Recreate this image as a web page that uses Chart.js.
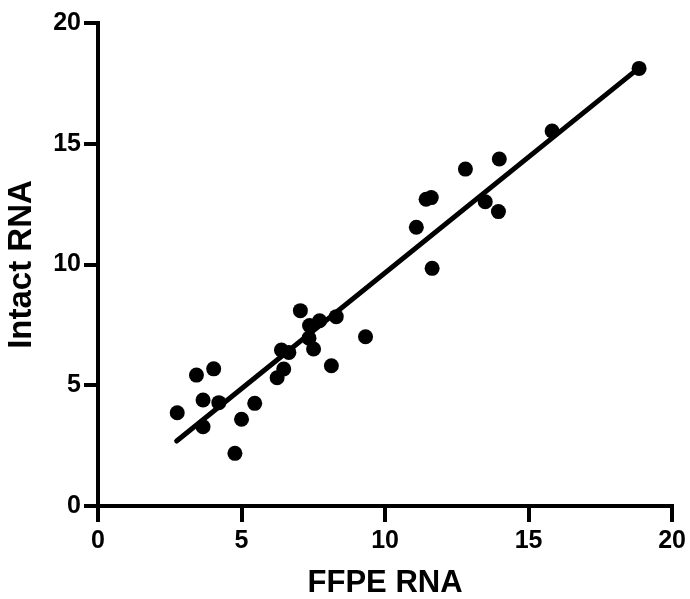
<!DOCTYPE html>
<html>
<head>
<meta charset="utf-8">
<script src="https://cdn.jsdelivr.net/npm/chart.js@4"></script>
<style>
  body { margin: 0; background: #fff; }
</style>
</head>
<body>
<canvas id="chart" width="690" height="599"></canvas>
<script>
// FFPE RNA (x) vs Intact RNA (y), one dot per sample
let ffpe = [7.05, 7.37, 7.72, 8.30, 9.32, 6.39, 6.65, 7.35, 7.51, 8.13, 6.47, 6.24,
            3.43, 4.03, 3.66, 4.21, 5.46, 2.76, 5.00, 3.66, 4.77,
            12.80, 13.98, 11.43, 11.61, 13.49, 13.95, 11.09, 11.64, 15.82, 18.85];
let intact = [8.09, 7.47, 7.67, 7.84, 7.01, 6.46, 6.36, 6.95, 6.50, 5.81, 5.67, 5.31,
              5.42, 5.68, 4.39, 4.28, 4.25, 3.86, 3.59, 3.28, 2.18,
              13.95, 14.37, 12.70, 12.77, 12.60, 12.19, 11.54, 9.84, 15.53, 18.12];

// regression line ends
let fitX = [2.74, 18.85];
let fitY = [2.69, 18.14];

let ticks = [0, 5, 10, 15, 20];

let points = ffpe.map((x, i) => ({ x: x, y: intact[i] }));
let fitLine = fitX.map((x, i) => ({ x: x, y: fitY[i] }));

let font = "'Liberation Sans', Arial, sans-serif";

new Chart(document.getElementById("chart"), {
  type: "scatter",
  data: {
    datasets: [
      {
        type: "line",
        data: fitLine,
        borderColor: "#000",
        borderWidth: 5,
        borderCapStyle: "round",
        pointRadius: 0,
        fill: false
      },
      {
        data: points,
        backgroundColor: "#000",
        borderWidth: 0,
        pointRadius: 7.5
      }
    ]
  },
  options: {
    responsive: false,
    animation: false,
    layout: { padding: { left: 0, right: 17, top: 23, bottom: 0 } },
    plugins: { legend: { display: false }, tooltip: { enabled: false } },
    scales: {
      x: {
        type: "linear",
        min: 0,
        max: 20,
        afterFit: s => { s.height = 93; },
        afterBuildTicks: s => { s.ticks = ticks.map(v => ({ value: v })); },
        grid: { drawOnChartArea: false, drawTicks: true, tickLength: 16, lineWidth: 4, color: "#000" },
        border: { display: true, width: 4, color: "#000" },
        ticks: { color: "#000", padding: 4, font: { family: font, size: 25, weight: "bold" } },
        title: {
          display: true,
          text: "FFPE RNA",
          color: "#000",
          padding: { top: 0, bottom: 0 },
          font: { family: font, size: 31, weight: "bold", lineHeight: 1 }
        }
      },
      y: {
        type: "linear",
        min: 0,
        max: 20,
        afterFit: s => { s.width = 98; },
        afterBuildTicks: s => { s.ticks = ticks.map(v => ({ value: v })); },
        grid: { drawOnChartArea: false, drawTicks: true, tickLength: 14, lineWidth: 4, color: "#000" },
        border: { display: true, width: 4, color: "#000" },
        ticks: { color: "#000", padding: 3, font: { family: font, size: 25, weight: "bold" } },
        title: {
          display: true,
          text: "Intact RNA",
          color: "#000",
          padding: { top: 5, bottom: 0 },
          font: { family: font, size: 33, weight: "bold", lineHeight: 1 }
        }
      }
    }
  }
});
</script>
</body>
</html>
